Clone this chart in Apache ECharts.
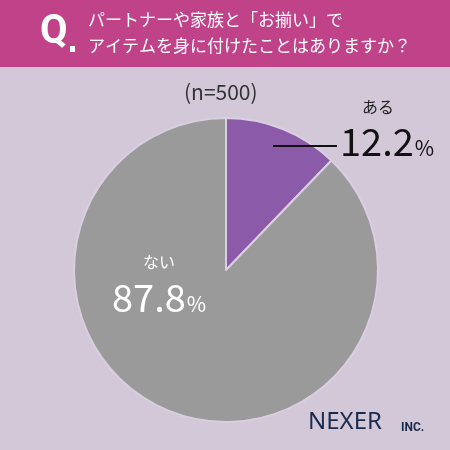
<!DOCTYPE html>
<html><head><meta charset="utf-8">
<script src="https://cdn.jsdelivr.net/npm/echarts@6/dist/echarts.min.js"></script>
<style>html,body{margin:0;padding:0;background:#d3c8d8}#c{width:450px;height:450px}</style>
</head><body><div id="c"></div>
<script>
var categories = ['ある', 'ない'];
var values = [12.2, 87.8];
var sampleLabel = '(n=500)';
var titleLines = ['パートナーや家族と「お揃い」で', 'アイテムを身に付けたことはありますか？'];
var colors = ['#8b5aa9', '#9a9a9a'];
var FONT = '"Noto Sans CJK JP", "Noto Sans", sans-serif';

var chart = echarts.init(document.getElementById('c'));
chart.setOption({
  backgroundColor: '#d3c8d8',
  animation: false,
  series: [{
    type: 'pie',
    center: [226, 270],
    radius: [0, 152],
    startAngle: 90,
    clockwise: true,
    z: 1,
    label: {show: false},
    labelLine: {show: false},
    itemStyle: {borderColor: '#d9cfe0', borderWidth: 2},
    data: categories.map(function (c, i) { return {name: c, value: values[i], itemStyle: {color: colors[i]}}; })
  }],
  graphic: [
    {type: 'rect', z: 100, shape: {x: 0, y: 0, width: 450, height: 67}, style: {fill: '#c0438a'}},
    {type: 'text', z: 101, left: 40, top: 13, style: {text: 'Q', fill: '#fff', font: 'bold 40px Roboto, sans-serif'}},
    {type: 'rect', z: 102, shape: {x: 70, y: 46, width: 5, height: 6}, style: {fill: '#fff'}},
    {type: 'text', z: 101, left: 88, top: 11, style: {text: titleLines[0], fill: '#fff', font: '17px ' + FONT}},
    {type: 'text', z: 101, left: 88, top: 37, style: {text: titleLines[1], fill: '#fff', font: '17px ' + FONT}},
    {type: 'text', z: 101, left: 184, top: 82, style: {text: sampleLabel, fill: '#333', font: '21px ' + FONT}},
    {type: 'line', z: 101, shape: {x1: 273, y1: 146, x2: 337, y2: 146}, style: {stroke: '#111', lineWidth: 2}},
    {type: 'text', z: 101, left: 362, top: 99, style: {text: categories[0], fill: '#222', font: '16px ' + FONT}},
    {type: 'text', z: 101, left: 340, top: 123, style: {
      text: '{n|' + values[0].toFixed(1) + '}{p|%}',
      rich: {n: {fill: '#111', font: '38px ' + FONT}, p: {fill: '#111', font: '21px ' + FONT, padding: [12, 0, 0, 1]}}
    }},
    {type: 'text', z: 101, left: 143, top: 254, style: {text: categories[1], fill: '#fff', font: '16px ' + FONT}},
    {type: 'text', z: 101, left: 112, top: 279, style: {
      text: '{n|' + values[1].toFixed(1) + '}{p|%}',
      rich: {n: {fill: '#fff', font: '38px ' + FONT}, p: {fill: '#fff', font: '21px ' + FONT, padding: [12, 0, 0, 1]}}
    }},
    {type: 'text', z: 101, left: 308, top: 410, style: {text: 'NEXER', fill: '#1b2b4d', font: '24px "Noto Sans", sans-serif'}},
    {type: 'text', z: 101, left: 401, top: 422, style: {text: 'INC.', fill: '#1b2b4d', font: 'bold 12px Roboto, sans-serif'}}
  ]
});
</script></body></html>
